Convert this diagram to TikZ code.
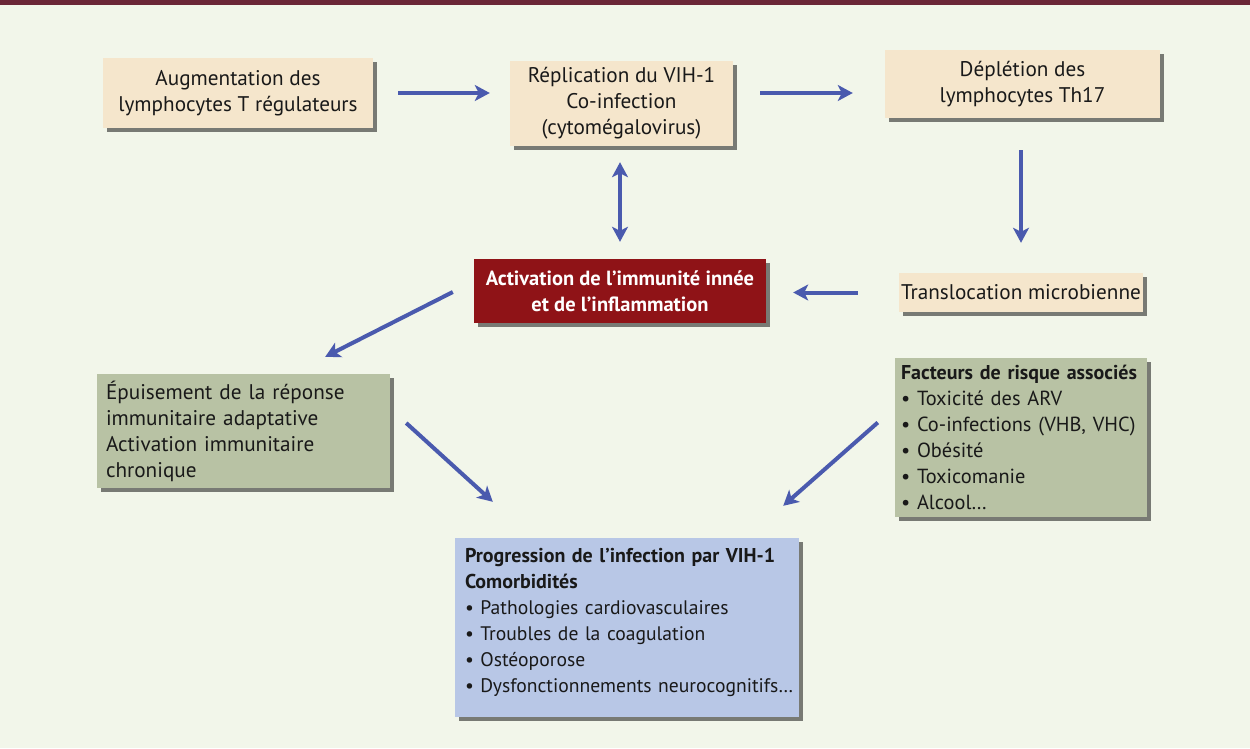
\documentclass[tikz,border=0pt]{standalone}
\usepackage{fontspec}
\setmainfont{PT Sans}
\usetikzlibrary{arrows.meta,shadows,calc}
\definecolor{bgc}{HTML}{F2F6EA}
\definecolor{barc}{HTML}{6B2737}
\definecolor{beige}{HTML}{F5E6CC}
\definecolor{redbox}{HTML}{8F1317}
\definecolor{sage}{HTML}{B8C2A4}
\definecolor{bluebox}{HTML}{B8C7E6}
\definecolor{arrc}{HTML}{4A5AAE}
\newcommand{\bfs}[1]{\mbox{\fontsize{20}{26}\selectfont\bfseries #1}}
\newcommand{\myline}[1]{\mbox{#1}}
\begin{document}
\begin{tikzpicture}[x=1pt,y=-1pt,
  font=\fontsize{21.2}{26}\selectfont,
  box/.style={rectangle, inner sep=0pt, text=black!90,
    drop shadow={shadow xshift=4pt,shadow yshift=-4pt,fill=black,opacity=0.5}},
  beigebox/.style={box, fill=beige},
  sagebox/.style={box, fill=sage},
  listfont/.style={font=\fontsize{20.4}{26}\selectfont},
  proglist/.style={font=\fontsize{19.6}{26}\selectfont},
  arr/.style={draw=arrc, line width=4pt, -{Stealth[length=15pt,width=16pt,inset=4pt]}},
  darr/.style={draw=arrc, line width=4pt, {Stealth[length=15pt,width=16pt,inset=4pt]}-{Stealth[length=15pt,width=16pt,inset=4pt]}}
]
\fill[bgc] (0,0) rectangle (1250,748);
\useasboundingbox (0,0) rectangle (1250,748);
\fill[barc] (0,0) rectangle (1250,5);

\node[beigebox, minimum width=270pt, minimum height=70pt, align=center] (b1) at (238,93)
  {Augmentation des\\lymphocytes T régulateurs};
\node[beigebox, minimum width=223pt, minimum height=85pt, align=center] (b2) at (621.5,103.5)
  {Réplication du VIH-1\\Co-infection\\(cytomégalovirus)};
\node[beigebox, minimum width=275pt, minimum height=68pt, align=center] (b3) at (1022.5,84)
  {Déplétion des\\lymphocytes Th17};
\node[beigebox, minimum width=244pt, minimum height=39pt, align=center] (trans) at (1021,292.5)
  {Translocation microbienne};
\node[box, fill=redbox, text=white, minimum width=292pt, minimum height=64pt, align=center,
  font=\fontsize{20.5}{26}\selectfont\bfseries] (act) at (620,291)
  {Activation de l’immunité innée\\et de l’inflammation};
\node[sagebox, minimum width=293pt, minimum height=114pt, text width=275pt, align=left] (epu) at (243.5,431)
  {\myline{Épuisement de la réponse}\\\myline{immunitaire adaptative}\\\myline{Activation immunitaire}\\\myline{chronique}};
\node[sagebox, listfont, minimum width=252pt, minimum height=159pt, text width=240pt, align=left] (fac) at (1021,437.5)
  {\bfs{Facteurs de risque associés}\\\myline{• Toxicité des ARV}\\\myline{• Co-infections (VHB, VHC)}\\\myline{• Obésité}\\\myline{• Toxicomanie}\\\myline{• Alcool…}};
\node[box, proglist, fill=bluebox, minimum width=344pt, minimum height=179pt, text width=324pt, align=left] (prog) at (627,627.5)
  {\bfs{Progression de l’infection par VIH-1}\\\bfs{Comorbidités}\\\myline{• Pathologies cardiovasculaires}\\\myline{• Troubles de la coagulation}\\\myline{• Ostéoporose}\\\myline{• Dysfonctionnements neurocognitifs…}\\[-12pt]\mbox{}};

\draw[arr] ($(b1.east)+(25,0)$) -- ($(b1.east -| b2.west)+(-20,0)$);
\draw[arr] ($(b2.east |- b1.east)+(27,0)$) -- ($(b3.west |- b1.east)+(-32,0)$);
\draw[arr, shorten <=32pt, shorten >=30pt] (b3.south -| trans.north) -- (trans.north);
\draw[arr, shorten <=41pt, shorten >=27pt] (trans.west) -- (trans.west -| act.east);
\draw[darr, shorten <=16pt, shorten >=17pt] (b2.south -| act.north) -- (act.north);
\draw[arr] ($(act.west)+(-21,1)$) -- ($(epu.north east)+(-65,-17)$);
\draw[arr] ($(epu.east)+(16,-8)$) -- ($(prog.north west)+(38,-36)$);
\draw[arr] ($(fac.west)+(-17,-15)$) -- ($(prog.north east)+(-16,-32)$);
\end{tikzpicture}
\end{document}
